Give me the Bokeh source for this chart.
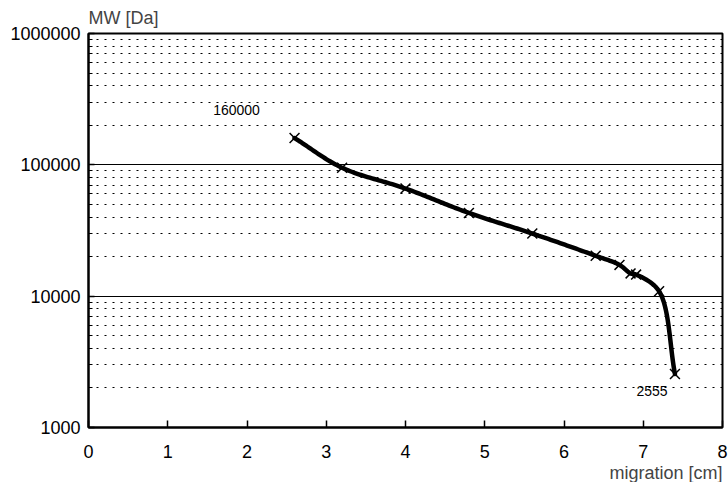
import numpy as np
from bokeh.plotting import figure
from bokeh.models import FixedTicker, PrintfTickFormatter, Title, ColumnDataSource
from bokeh.core.properties import value
from bokeh.embed import file_html
from bokeh.resources import INLINE

# ---- data ----
migration = [2.6, 3.2, 4.0, 4.8, 5.6, 6.4, 6.7, 6.84, 6.91, 7.2, 7.4]
mw = [160000, 95000, 66000, 43000, 30000, 20300, 17300, 14900, 14600, 10900, 2555]
x_ticks = [0, 1, 2, 3, 4, 5, 6, 7, 8]
y_ticks = [1000, 10000, 100000, 1000000]
y_minor = [m * d for d in (1000, 10000, 100000) for m in range(2, 10)]
point_labels = ["160000", "2555"]

FONT = "Liberation Sans"

p = figure(width=728, height=482, x_range=(0, 8), y_range=(1000, 1000000),
           y_axis_type="log", output_backend="svg", toolbar_location=None,
           min_border_left=88, min_border_right=6, min_border_top=0, min_border_bottom=0)
p.background_fill_color = "white"
p.border_fill_color = "white"
p.outline_line_color = "black"
p.outline_line_width = 2

# axes
p.xaxis.ticker = FixedTicker(ticks=x_ticks)
p.yaxis.ticker = FixedTicker(ticks=y_ticks, minor_ticks=y_minor)
p.yaxis.formatter = PrintfTickFormatter(format="%d")
for ax in (p.xaxis, p.yaxis):
    ax.axis_line_width = 2
    ax.axis_line_color = "black"
    ax.major_tick_line_color = "black"
    ax.major_tick_line_width = 1.5
    ax.major_tick_out = 0
    ax.minor_tick_out = 0
    ax.major_label_text_font = FONT
    ax.major_label_text_font_size = "18px"
    ax.major_label_text_color = "black"
p.xaxis.major_tick_in = 7
p.xaxis.minor_tick_in = 0
p.xaxis.major_label_standoff = 17
p.yaxis.major_tick_in = 6
p.yaxis.minor_tick_in = 4
p.yaxis.minor_tick_line_color = "black"
p.yaxis.major_label_standoff = 8

# grid
p.xgrid.grid_line_color = None
p.ygrid.grid_line_color = "black"
p.ygrid.grid_line_width = 1
p.ygrid.minor_grid_line_color = "black"
p.ygrid.minor_grid_line_width = 1
p.ygrid.minor_grid_line_dash = "2 6"

# axis titles
p.add_layout(Title(text="MW [Da]", align="left", text_font=FONT, text_font_size="18px",
                   text_font_style="normal", standoff=11), "above")
p.add_layout(Title(text="migration [cm]", align="right", text_font=FONT, text_font_size="18px",
                   text_font_style="normal", standoff=0), "below")

# smooth curve (centripetal Catmull-Rom in screen-like space)
SCALE = 131.0 / 79.0
P = np.column_stack([np.array(migration, float), np.log10(np.array(mw, float)) * SCALE])
P = np.vstack([2 * P[0] - P[1], P, 2 * P[-1] - P[-2]])

def seg(P0, P1, P2, P3, n=30):
    def tj(ti, a, b):
        return ti + np.hypot(*(b - a)) ** 0.5
    t0 = 0.0
    t1 = tj(t0, P0, P1)
    t2 = tj(t1, P1, P2)
    t3 = tj(t2, P2, P3)
    t = np.linspace(t1, t2, n)[:, None]
    A1 = (t1 - t) / (t1 - t0) * P0 + (t - t0) / (t1 - t0) * P1
    A2 = (t2 - t) / (t2 - t1) * P1 + (t - t1) / (t2 - t1) * P2
    A3 = (t3 - t) / (t3 - t2) * P2 + (t - t2) / (t3 - t2) * P3
    B1 = (t2 - t) / (t2 - t0) * A1 + (t - t0) / (t2 - t0) * A2
    B2 = (t3 - t) / (t3 - t1) * A2 + (t - t1) / (t3 - t1) * A3
    return (t2 - t) / (t2 - t1) * B1 + (t - t1) / (t2 - t1) * B2

curve = np.vstack([seg(P[i], P[i + 1], P[i + 2], P[i + 3]) for i in range(len(P) - 3)])
p.line(curve[:, 0], 10 ** (curve[:, 1] / SCALE), line_color="black", line_width=4.5,
       line_join="round", line_cap="round")

p.scatter(migration, mw, marker="x", size=14, line_color="black", line_width=1.5)

lab = ColumnDataSource(dict(x=[migration[0], migration[-1]], y=[mw[0], mw[-1]],
                            t=point_labels, xo=[-58, -23], yo=[-28, 17]))
p.text(x="x", y="y", text="t", x_offset="xo", y_offset="yo", source=lab,
       text_font=value(FONT), text_font_size="14px", text_align="center",
       text_baseline="middle", text_color="black")

open("out.html", "w").write(file_html(p, INLINE))
